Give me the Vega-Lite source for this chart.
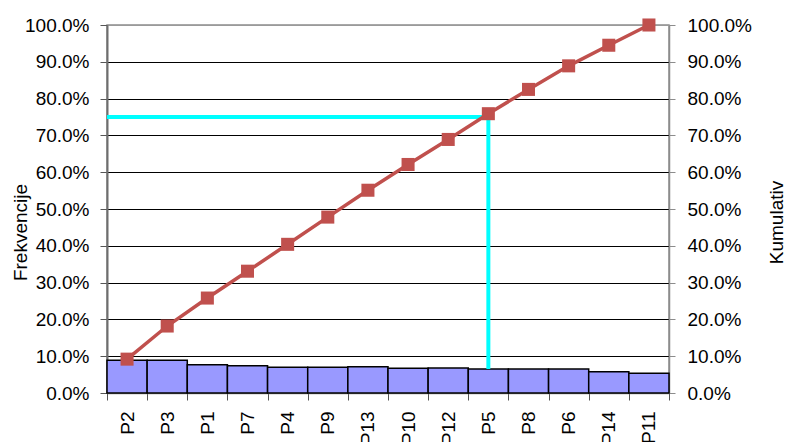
{
  "$schema": "https://vega.github.io/schema/vega-lite/v6.json",
  "width": 562,
  "height": 368,
  "autosize": {"type": "none"},
  "padding": {"left": 107, "top": 25, "right": 117, "bottom": 49},
  "background": "white",
  "config": {
    "font": "Liberation Sans",
    "view": {"stroke": "#8c8c8c", "strokeWidth": 1.5},
    "axis": {
      "labelFont": "Liberation Sans",
      "titleFont": "Liberation Sans",
      "labelFontSize": 19,
      "titleFontSize": 19,
      "titleFontWeight": "normal",
      "labelColor": "#000000",
      "titleColor": "#000000"
    }
  },
  "datasets": {
    "pareto": [
      {"cat": "P2", "freq": 8.9, "cum": 9.2},
      {"cat": "P3", "freq": 8.9, "cum": 18.2},
      {"cat": "P1", "freq": 7.7, "cum": 25.8},
      {"cat": "P7", "freq": 7.4, "cum": 33.1},
      {"cat": "P4", "freq": 7.0, "cum": 40.4},
      {"cat": "P9", "freq": 7.0, "cum": 47.8},
      {"cat": "P13", "freq": 7.1, "cum": 55.1},
      {"cat": "P10", "freq": 6.7, "cum": 62.1},
      {"cat": "P12", "freq": 6.8, "cum": 68.9},
      {"cat": "P5", "freq": 6.5, "cum": 75.9},
      {"cat": "P8", "freq": 6.5, "cum": 82.5},
      {"cat": "P6", "freq": 6.5, "cum": 88.9},
      {"cat": "P14", "freq": 5.8, "cum": 94.5},
      {"cat": "P11", "freq": 5.4, "cum": 100}
    ],
    "hline": [{"from": "P2", "to": "P5", "level": 75}],
    "vline": [{"cat": "P5", "top": 75, "bottom": 6.5}]
  },
  "layer": [
    {
      "data": {"name": "pareto"},
      "mark": {"type": "bar", "fill": "#9999FF", "stroke": "#000000", "strokeWidth": 1.5},
      "encoding": {
        "x": {
          "field": "cat", "type": "nominal", "sort": null, "title": null,
          "scale": {"domain": ["P2","P3","P1","P7","P4","P9","P13","P10","P12","P5","P8","P6","P14","P11"], "paddingInner": 0, "paddingOuter": 0},
          "axis": {"labelAngle": 270, "tickBand": "extent", "tickSize": 7, "tickColor": "#555555", "domainColor": "#8c8c8c", "domainWidth": 1.5, "labelPadding": 11}
        },
        "y": {
          "field": "freq", "type": "quantitative", "title": "Frekvencije",
          "scale": {"domain": [0, 100], "nice": false},
          "axis": {
            "values": [0,10,20,30,40,50,60,70,80,90,100],
            "labelExpr": "format(datum.value / 100, '.1%')",
            "grid": true,
            "gridColor": {"condition": {"test": "datum.value >= 100", "value": "#9a9a9a"}, "value": "#000000"},
            "gridWidth": 1,
            "domainColor": "#6e6e6e", "domainWidth": 2,
            "tickColor": "#555555", "tickSize": 7, "labelPadding": 11,
            "titleAngle": 270, "titleX": -87, "titleY": 207, "titleAlign": "center", "titleBaseline": "middle"
          }
        }
      }
    },
    {
      "data": {"name": "hline"},
      "mark": {"type": "rule", "color": "#00FFFF", "strokeWidth": 4},
      "encoding": {
        "x": {"field": "from", "type": "nominal", "bandPosition": 0, "title": null},
        "x2": {"field": "to", "bandPosition": 0.5},
        "y": {"field": "level", "type": "quantitative", "axis": null}
      }
    },
    {
      "data": {"name": "vline"},
      "mark": {"type": "rule", "color": "#00FFFF", "strokeWidth": 4},
      "encoding": {
        "x": {"field": "cat", "type": "nominal", "title": null},
        "y": {"field": "top", "type": "quantitative", "axis": null},
        "y2": {"field": "bottom"}
      }
    },
    {
      "data": {"name": "pareto"},
      "mark": {"type": "line", "color": "#C0504D", "strokeWidth": 3.5},
      "encoding": {
        "x": {"field": "cat", "type": "nominal", "sort": null, "title": null},
        "y": {
          "field": "cum", "type": "quantitative", "title": "Kumulativ",
          "axis": {
            "orient": "right",
            "values": [0,10,20,30,40,50,60,70,80,90,100],
            "labelExpr": "format(datum.value / 100, '.1%')",
            "grid": false,
            "domainColor": "#8c8c8c", "domainWidth": 1.5,
            "tickColor": "#8c8c8c", "tickSize": 6, "labelPadding": 12,
            "titleAngle": 270, "titleX": 107, "titleY": 197, "titleAlign": "center", "titleBaseline": "middle"
          }
        }
      }
    },
    {
      "data": {"name": "pareto"},
      "mark": {"type": "point", "shape": "square", "filled": true, "color": "#C0504D", "size": 170, "opacity": 1},
      "encoding": {
        "x": {"field": "cat", "type": "nominal", "sort": null, "title": null},
        "y": {"field": "cum", "type": "quantitative", "axis": null}
      }
    }
  ],
  "resolve": {"scale": {"y": "shared"}, "axis": {"y": "independent"}}
}
